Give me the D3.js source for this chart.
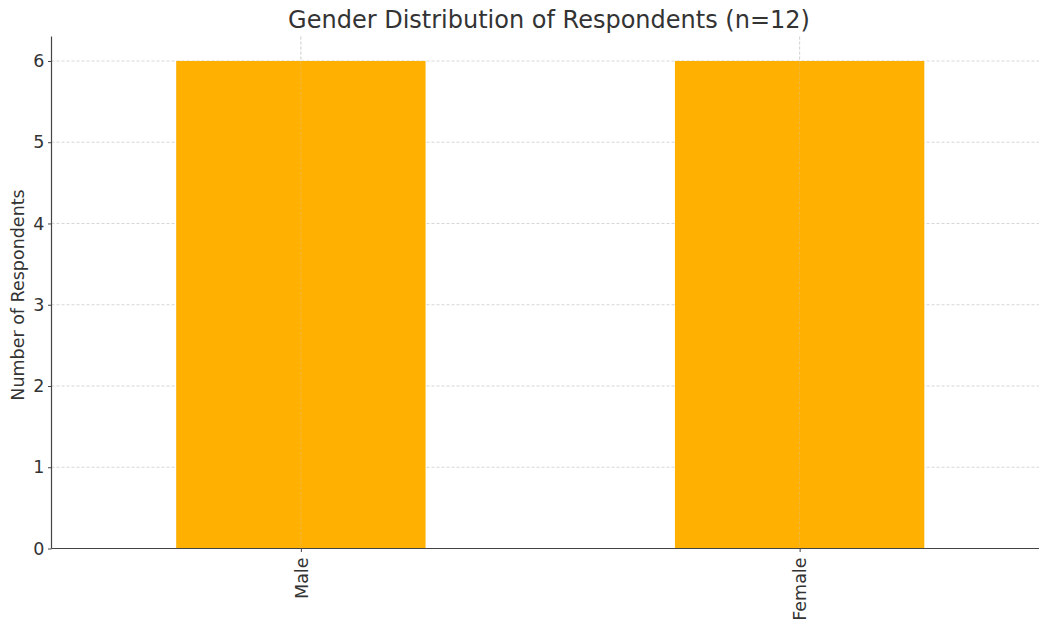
<!DOCTYPE html>
<html><head><meta charset="utf-8">
<script src="https://cdn.jsdelivr.net/npm/d3@7"></script>
<style>body{margin:0;background:#fff}svg{display:block}text{font-family:"DejaVu Sans",sans-serif;fill:#333}</style>
</head><body>
<svg id="c" width="1039" height="621"></svg>
<script>
const categories = ["Male", "Female"];
const counts = [6, 6];
const yTicks = [0, 1, 2, 3, 4, 5, 6];
const title = "Gender Distribution of Respondents (n=12)";
const yLabel = "Number of Respondents";

const svg = d3.select("#c");
const pL = 51.5, pR = 1049, pT = 36.6, pB = 548.5;
const x = d3.scaleLinear().domain([-0.5, categories.length - 0.5]).range([pL, pR]);
const y = d3.scaleLinear().domain([0, 6.3]).range([pB, pT]);
const barW = 0.5;

// grid
const grid = svg.append("g");
grid.selectAll("line.h").data(yTicks).join("line")
  .attr("x1", pL).attr("x2", 1039).attr("y1", d => y(d)).attr("y2", d => y(d))
  .attr("stroke", "#ccc").attr("stroke-width", 0.8).attr("stroke-dasharray", "3,2");
grid.selectAll("line.v").data(categories).join("line")
  .attr("x1", (d,i) => x(i)).attr("x2", (d,i) => x(i)).attr("y1", pT).attr("y2", pB)
  .attr("stroke", "#ccc").attr("stroke-width", 0.8).attr("stroke-dasharray", "3,2");

// bars
svg.append("g").selectAll("rect").data(counts).join("rect")
  .attr("x", (d,i) => x(i - barW/2)).attr("width", (d,i) => x(i + barW/2) - x(i - barW/2))
  .attr("y", d => y(d)).attr("height", d => y(0) - y(d))
  .attr("fill", "#ffb000");

svg.append("g").selectAll("line").data(categories).join("line")
  .attr("x1", (d,i) => x(i)).attr("x2", (d,i) => x(i)).attr("y1", pT).attr("y2", pB)
  .attr("stroke", "#ccc").attr("stroke-width", 0.6).attr("stroke-dasharray", "3,2").attr("opacity", 0.6);

// y axis
const ya = svg.append("g").attr("transform", `translate(${pL},0)`)
  .call(d3.axisLeft(y).tickValues(yTicks).tickFormat(d3.format("d")).tickSize(3.5).tickPadding(3.5));
ya.select(".domain").attr("stroke", "#444").attr("stroke-width", 1.2).attr("d", `M0,${pT}V${pB}`);
ya.selectAll(".tick line").attr("stroke", "#444");
ya.selectAll(".tick text").style("font-size", "17.5px").style("fill", "#333").style("font-family", "DejaVu Sans");

// x axis
const xa = svg.append("g").attr("transform", `translate(0,${pB})`)
  .call(d3.axisBottom(x).tickValues(categories.map((d,i) => i)).tickFormat(i => categories[i]).tickSize(3.5));
xa.select(".domain").attr("stroke", "#444").attr("stroke-width", 1.2).attr("d", `M${pL},0H1039`);
xa.selectAll(".tick line").attr("stroke", "#444");
xa.selectAll(".tick text").style("font-size", "17.5px").style("fill", "#333").style("font-family", "DejaVu Sans")
  .attr("transform", "rotate(-90)").attr("text-anchor", "end").attr("x", -9).attr("y", 0).attr("dy", "0.35em");

// title
svg.append("text").attr("x", 549).attr("y", 28).attr("text-anchor", "middle")
  .style("font-size", "24px").text(title);
// y label
svg.append("text").attr("transform", `translate(24,295) rotate(-90)`)
  .attr("text-anchor", "middle").style("font-size", "17.5px").text(yLabel);
</script>
</body></html>
